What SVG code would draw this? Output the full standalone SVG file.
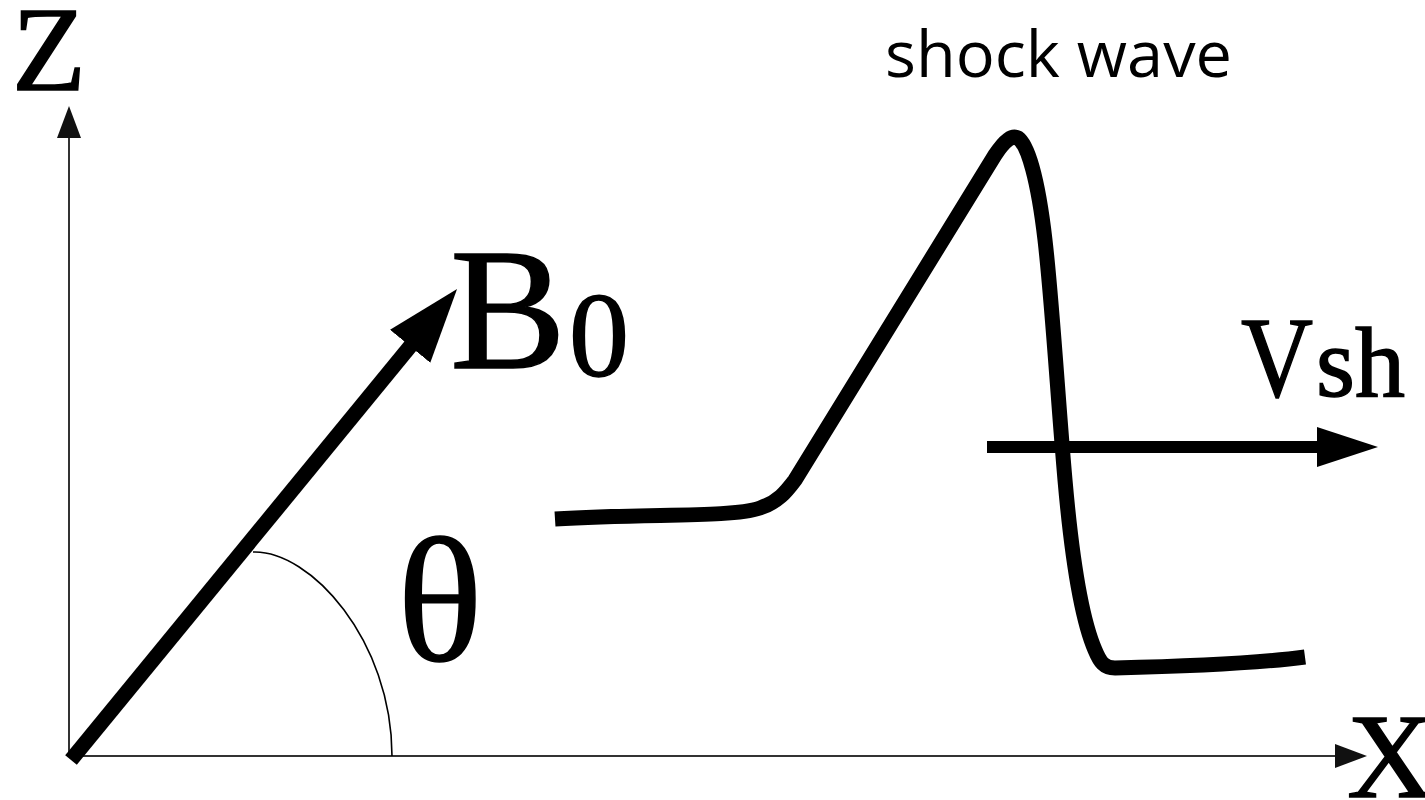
<svg xmlns="http://www.w3.org/2000/svg" width="1425" height="800" viewBox="0 0 1425 800">
<defs>
<marker id="axisHead" markerUnits="userSpaceOnUse" markerWidth="34" markerHeight="26" refX="16" refY="12" orient="auto"><path d="M0,0 L32,12 L0,24 Z" fill="#111"/></marker>
<marker id="b0Head" markerUnits="userSpaceOnUse" markerWidth="76" markerHeight="54" refX="25" refY="26" orient="auto"><path d="M0,0 L74,26 L0,52 Z" fill="#000"/></marker>
<marker id="vHead" markerUnits="userSpaceOnUse" markerWidth="64" markerHeight="42" refX="23" refY="20" orient="auto"><path d="M0,0 L61,20 L0,40 Z" fill="#000"/></marker>
</defs>
<style>
.axis{stroke:#333;stroke-width:2;fill:none}
.thick{stroke:#000;fill:none;stroke-linecap:butt}
.serif{font-family:"Liberation Serif","Times New Roman",serif;fill:#000;stroke:#000;stroke-width:1.5}
.sans{font-family:"Open Sans","Liberation Sans",sans-serif;fill:#000}
</style>
<rect width="1425" height="800" fill="#fff"/>
<g id="connectors">
<line id="z-axis" class="axis" x1="69" y1="757" x2="69" y2="122" marker-end="url(#axisHead)"/>
<line id="x-axis" class="axis" x1="68" y1="756" x2="1351" y2="756" marker-end="url(#axisHead)"/>
<line id="b0-vector" class="thick" stroke-width="15" x1="71" y1="760" x2="426" y2="327" marker-end="url(#b0Head)"/>
<line id="vsh-arrow" class="thick" stroke-width="12" x1="987" y1="447" x2="1340" y2="447" marker-end="url(#vHead)"/>
</g>
<g id="angle-arc">
<path d="M253,552 C310,550 392,640 392,756" fill="none" stroke="#000" stroke-width="1.6"/>
</g>
<g id="shock-wave">
<path class="thick" stroke-width="15" stroke-linejoin="round" d="M555,519 C650,513 730,518 760,508 C778,502 786,492 795,480 L995,155 C1005,140 1012,135 1018,138 C1028,145 1038,180 1045,240 C1052,300 1058,400 1065,480 C1072,560 1082,620 1095,650 C1100,662 1104,668 1115,668 C1200,666 1260,663 1305,657"/>
<text class="sans" x="885" y="77" font-size="64" textLength="347" lengthAdjust="spacingAndGlyphs">shock wave</text>
</g>
<g id="label-z"><text class="serif" x="12" y="90" font-size="121">Z</text></g>
<g id="label-x"><text class="serif" x="1347" y="797" font-size="121">X</text></g>
<g id="label-b0"><text class="serif" x="450" y="368" font-size="174">B</text><text class="serif" x="569" y="376" font-size="120">0</text></g>
<g id="label-theta"><text class="serif" x="440" y="660" font-size="178" text-anchor="middle">θ</text></g>
<g id="label-vsh"><text class="serif" x="1241" y="396" font-size="114" textLength="72" lengthAdjust="spacingAndGlyphs">V</text><text class="serif" x="1316" y="396" font-size="100">sh</text></g>
</svg>
